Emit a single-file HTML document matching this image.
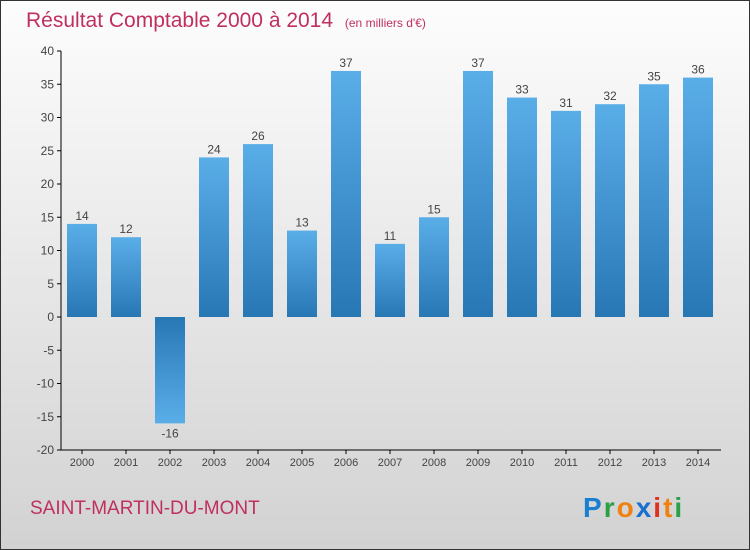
<!DOCTYPE html>
<html><head><meta charset="utf-8"><style>
body{margin:0;}
#wrap{width:748px;height:548px;border:1px solid #333;background:linear-gradient(#fdfdfd,#d2d2d2);position:relative;font-family:"Liberation Sans",sans-serif;}
svg{position:absolute;left:0;top:0;}
</style></head><body>
<div id="wrap">
<svg id="c" width="748" height="548">
<defs>
<linearGradient id="gp" x1="0" y1="0" x2="0" y2="1"><stop offset="0" stop-color="#5aaee8"/><stop offset="1" stop-color="#2877b5"/></linearGradient>
<linearGradient id="gn" x1="0" y1="0" x2="0" y2="1"><stop offset="0" stop-color="#2877b5"/><stop offset="1" stop-color="#5aaee8"/></linearGradient>
</defs>
<text x="25" y="26" font-size="21" fill="#c0305e">Résultat Comptable 2000 à 2014 <tspan font-size="12" dx="6">(en milliers d'€)</tspan></text>
<text x="29" y="513" font-size="19" fill="#c0305e">SAINT-MARTIN-DU-MONT</text>
<g font-size="28" font-weight="bold">
<text x="582" y="516" fill="#1a7fd0" letter-spacing="2">P<tspan fill="#2aa048">r</tspan><tspan fill="#f08010">o</tspan><tspan fill="#1a6fd0">x</tspan><tspan fill="#e03020">i</tspan><tspan fill="#f08010">t</tspan><tspan fill="#2aa048">i</tspan></text>
</g>
</svg></div>
<script>
const years=["2000","2001","2002","2003","2004","2005","2006","2007","2008","2009","2010","2011","2012","2013","2014"];
const values=[14,12,-16,24,26,13,37,11,15,37,33,31,32,35,36];
const yTicks=[40,35,30,25,20,15,10,5,0,-5,-10,-15,-20];
const svg=document.getElementById('c');
const NS='http://www.w3.org/2000/svg';
const y=v=>316-v*6.65;
const x=i=>81+i*44;
function mk(t,a){const e=document.createElementNS(NS,t);for(const k in a)e.setAttribute(k,a[k]);svg.appendChild(e);return e;}
let ax=mk('line',{x1:60,y1:50,x2:60,y2:449,stroke:'#000'});


let ax2=mk('line',{x1:60,y1:449,x2:720,y2:449,stroke:'#000'});


yTicks.forEach(v=>{
 mk('line',{x1:56,y1:y(v),x2:60,y2:y(v),stroke:'#000'});
 const t=mk('text',{x:53,y:y(v)+4,'font-size':12,fill:'#444','text-anchor':'end'});
 t.textContent=v;
 
 
});
years.forEach((yr,i)=>{
 const v=values[i];
 mk('line',{x1:x(i),y1:449,x2:x(i),y2:453,stroke:'#000'});
 const t=mk('text',{x:x(i),y:465,'font-size':11,fill:'#444','text-anchor':'middle'});
 t.textContent=yr;
 
 
 const top=Math.min(y(v),y(0)),h=Math.abs(y(v)-y(0));
 const r=mk('rect',{x:x(i)-15,y:top,width:30,height:h,fill:v>=0?'url(#gp)':'url(#gn)'});
 
 
 const l=mk('text',{x:x(i),y:v>=0?y(v)-4:y(v)+14,'font-size':12,fill:'#444','text-anchor':'middle'});
 l.textContent=v;
 
 
});
</script>
</body></html>
